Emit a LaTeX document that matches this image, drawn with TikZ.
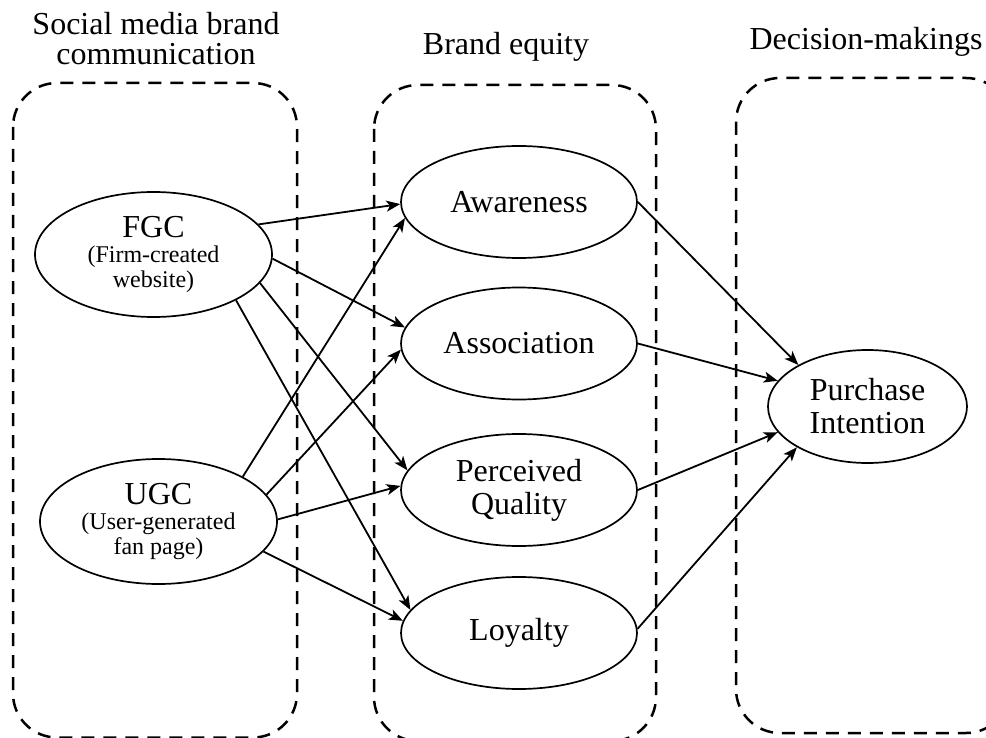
\documentclass[tikz,border=0pt]{standalone}
\usepackage{fontspec}
\setmainfont{Liberation Serif}
\usetikzlibrary{shapes.geometric,arrows.meta}

\newcommand{\subtxt}[1]{{\fontsize{12}{12.5}\selectfont #1}}

\begin{document}
\begin{tikzpicture}[x=0.5pt,y=-0.5pt,
  groupbox/.style={draw, line width=1.25pt, dash pattern=on 6.5pt off 4.5pt, rounded corners=22pt},
  construct/.style={draw, ellipse, line width=0.85pt, inner sep=0pt, align=center,
    font=\fontsize{16}{16.5}\selectfont, minimum width=118pt, minimum height=56pt},
  source/.style={construct, minimum width=118.5pt, minimum height=62.5pt},
  heading/.style={align=center, inner sep=0pt, font=\fontsize{16}{15}\selectfont},
  link/.style={-{Stealth[length=7pt,width=5.5pt,inset=1.8pt]}, line width=0.9pt}]
\useasboundingbox (0,0) rectangle (986,738);
\clip (0,0) rectangle (986,738);

\draw[groupbox] (13,83) rectangle (297,737.5);
\draw[groupbox] (374,85) rectangle (656,741);
\draw[groupbox] (736,78) rectangle (1010,733);

\node[heading, anchor=south] (tsmbc) at (156,65.5) {Social media brand\\communication};
\node[heading, anchor=base] (tbe) at (506,55) {Brand equity};
\node[heading, anchor=base] (tdm) at (866,50) {Decision-makings};

\node[source] (fgc) at (153.5,254.5) {FGC\\[-4pt]\subtxt{(Firm-created}\\[-4pt]\subtxt{website)}};
\node[source] (ugc) at (158.5,521.5) {UGC\\[-4pt]\subtxt{(User-generated}\\[-4pt]\subtxt{fan page)}};

\node[construct] (aw) at (519,202) {Awareness};
\node[construct] (as) at (519,343.5) {Association};
\node[construct] (pq) at (519,490) {Perceived\\Quality};
\node[construct] (lo) at (519,633) {Loyalty};

\node[construct, minimum width=99.5pt, minimum height=56.5pt] (pi) at (867.5,406.5) {Purchase\\Intention};

\draw[link] (fgc.16) -- (aw.181);
\draw[link] (fgc.-2) -- (as.172);
\draw[link] (fgc.-15) -- (pq.170);
\draw[link] (fgc.-29) -- (lo.168);
\draw[link] (ugc.28) -- (aw.188);
\draw[link] (ugc.14) -- (as.183);
\draw[link] (ugc.1) -- (pq.178);
\draw[link] (ugc.-16) -- (lo.174);

\draw[link] (aw.east) -- (pi.149);
\draw[link] (as.east) -- (pi.164);
\draw[link] (pq.east) -- (pi.196);
\draw[link] (lo.2) -- (pi.210);
\end{tikzpicture}
\end{document}
